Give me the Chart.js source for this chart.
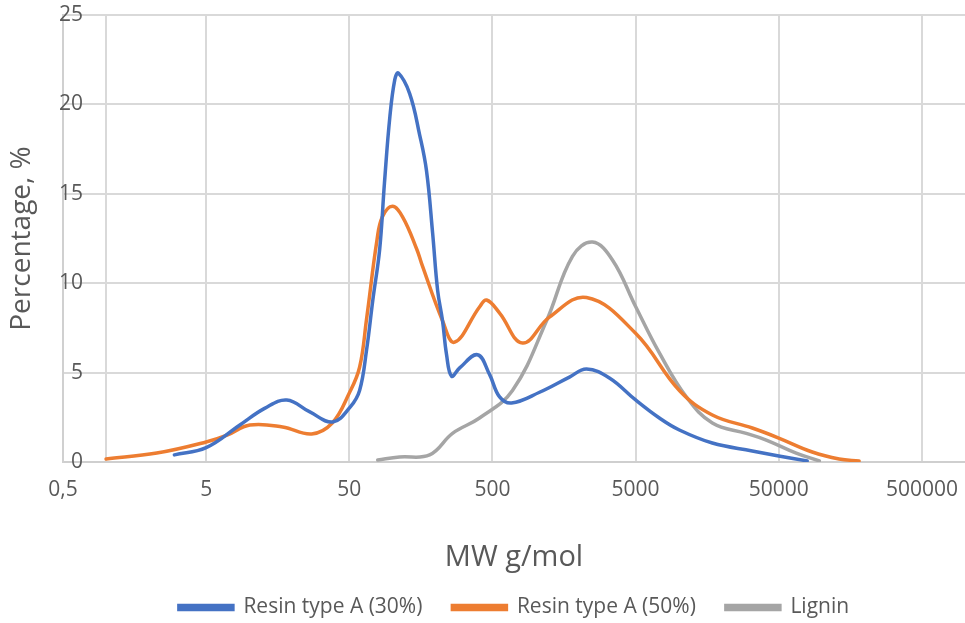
<!DOCTYPE html>
<html lang="en">
<head>
<meta charset="UTF-8">
<title>MW distribution</title>
<script src="https://cdn.jsdelivr.net/npm/chart.js@4.4.1/dist/chart.umd.min.js"></script>
<style>
    body { margin: 0; background: #fff; }
</style>
</head>
<body>
<canvas id="mwChart" width="965" height="623"></canvas>
<script>
    // Molecular weight (g/mol) and percentage
    const resin30Mw  = [3.0, 5, 8.6, 12.8, 18.3, 26.5, 38.3, 51, 59, 66, 73, 81.5, 88, 96, 104, 110, 132, 155, 173, 191, 207, 224, 239, 259, 295, 393, 477, 561, 680, 1066, 1726, 2270, 3280, 5000, 7330, 10110, 17180, 32650, 50000, 79000];
    const resin30Pct = [0.4, 0.8, 2.07, 3.0, 3.47, 2.8, 2.24, 3.1, 4.0, 6.26, 9.06, 11.9, 15.6, 19.3, 21.4, 21.75, 20.6, 18.3, 16.3, 12.8, 9.6, 7.9, 6.0, 4.8, 5.26, 6.0, 4.9, 3.64, 3.3, 3.9, 4.75, 5.2, 4.7, 3.47, 2.46, 1.79, 1.06, 0.62, 0.34, 0.06];

    const resin50Mw  = [1, 2.26, 5, 7, 10.1, 17.1, 27.3, 38, 50, 59, 66, 78, 85, 100, 118, 148, 160, 224, 272, 406, 455, 561, 811, 1250, 2270, 5000, 10110, 17180, 32650, 50000, 85700, 132000, 182000];
    const resin50Pct = [0.17, 0.5, 1.12, 1.5, 2.07, 1.96, 1.57, 2.18, 3.86, 5.3, 8.0, 12.4, 13.7, 14.3, 13.7, 11.9, 11.1, 7.9, 6.7, 8.67, 9.06, 8.33, 6.65, 8.1, 9.2, 7.2, 4.0, 2.63, 1.9, 1.34, 0.56, 0.17, 0.06];

    const ligninMw  = [79, 112, 182, 263, 406, 690, 1194, 1811, 2500, 3445, 5000, 7330, 11300, 17180, 29650, 40900, 66200, 96000];
    const ligninPct = [0.11, 0.28, 0.4, 1.6, 2.46, 4.0, 7.9, 11.5, 12.3, 11.3, 8.7, 6.1, 3.64, 2.18, 1.6, 1.23, 0.5, 0.06];

    const xTickValues = [0.5, 1, 5, 50, 500, 5000, 50000, 500000, 1000000];
    const hiddenXLabels = [1, 1000000];

    const textColor = '#595959';
    const gridColor = '#d9d9d9';
    const fontFamily = 'Open Sans';

    function toPoints(xs, ys) {
        return xs.map((x, i) => ({ x: x, y: ys[i] }));
    }

    function makeSeries(label, xs, ys, color) {
        return {
            label: label,
            data: toPoints(xs, ys),
            borderColor: color,
            backgroundColor: color,
            borderWidth: 3.5,
            pointRadius: 0,
            tension: 0.4,
            borderCapStyle: 'round'
        };
    }

    const ctx = document.getElementById('mwChart').getContext('2d');
    const mwChart = new Chart(ctx, {
        type: 'line',
        data: {
            datasets: [
                makeSeries('Resin type A (30%)', resin30Mw, resin30Pct, '#4472c4'),
                makeSeries('Resin type A (50%)', resin50Mw, resin50Pct, '#ed7d31'),
                makeSeries('Lignin', ligninMw, ligninPct, '#a5a5a5')
            ]
        },
        options: {
            responsive: false,
            animation: false,
            layout: { padding: { top: 15, right: -1, left: 0, bottom: 0 } },
            plugins: {
                tooltip: { enabled: false },
                legend: {
                    position: 'bottom',
                    fullSize: false,
                    maxHeight: 56,
                    labels: {
                        color: textColor,
                        font: { family: fontFamily, size: 21 },
                        boxWidth: 54,
                        boxHeight: 4,
                        padding: 30
                    }
                }
            },
            scales: {
                x: {
                    type: 'logarithmic',
                    min: 0.5,
                    max: 1000000,
                    afterBuildTicks: (scale) => {
                        scale.ticks = xTickValues.map(v => ({ value: v }));
                    },
                    afterFit: (scale) => {
                        scale.height = 105;
                        scale.paddingRight = 0;
                    },
                    ticks: {
                        color: textColor,
                        font: { family: fontFamily, size: 21 },
                        padding: 15,
                        autoSkip: false,
                        maxRotation: 0,
                        callback: (value) => {
                            if (hiddenXLabels.includes(value)) return '';
                            return String(value).replace('.', ',');
                        }
                    },
                    grid: {
                        drawTicks: false,
                        lineWidth: 2,
                        color: (c) => (c.tick && c.tick.value === 1000000) ? 'rgba(0,0,0,0)' : gridColor
                    },
                    border: { color: '#cfcfcf', width: 2 },
                    title: {
                        display: true,
                        text: 'MW g/mol',
                        color: textColor,
                        font: { family: fontFamily, size: 29 },
                        padding: { top: 0, bottom: -8 }
                    }
                },
                y: {
                    min: 0,
                    max: 25,
                    afterFit: (scale) => { scale.width = 63; },
                    ticks: {
                        stepSize: 5,
                        color: textColor,
                        font: { family: fontFamily, size: 21 },
                        mirror: true,
                        crossAlign: 'far',
                        padding: -4
                    },
                    grid: {
                        drawTicks: false,
                        lineWidth: 2,
                        color: gridColor
                    },
                    border: { color: '#d0d0d0', width: 2 },
                    title: {
                        display: true,
                        text: 'Percentage, %',
                        color: textColor,
                        font: { family: fontFamily, size: 28 },
                        padding: { top: 5, bottom: 0 }
                    }
                }
            }
        }
    });
</script>
</body>
</html>
